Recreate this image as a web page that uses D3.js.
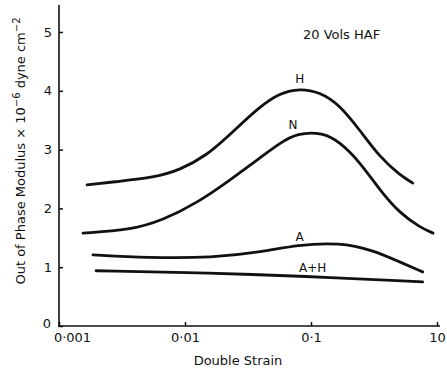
<!DOCTYPE html>
<html>
<head>
<meta charset="utf-8">
<script src="https://cdn.jsdelivr.net/npm/d3@7"></script>
<style>
  html, body { margin: 0; padding: 0; background: #fff; }
  svg { display: block; }
  text { font-family: "DejaVu Sans", sans-serif; fill: #111; }
</style>
</head>
<body>
<svg id="chart" width="447" height="371"></svg>
<script>
// Out-of-phase modulus vs double strain, 20 vols HAF
const strainH  = [0.00167, 0.00268, 0.00557, 0.00912, 0.015, 0.0216, 0.0394, 0.0566, 0.0813, 0.117, 0.169, 0.244, 0.352, 0.506, 0.643];
const modH     = [2.40, 2.45, 2.52, 2.65, 2.91, 3.21, 3.74, 3.96, 4.04, 3.98, 3.76, 3.33, 2.87, 2.57, 2.43];

const strainN  = [0.00155, 0.00366, 0.00668, 0.0124, 0.0227, 0.0394, 0.0566, 0.0776, 0.124, 0.169, 0.244, 0.352, 0.506, 0.73, 0.93];
const modN     = [1.58, 1.63, 1.80, 2.09, 2.48, 2.86, 3.11, 3.28, 3.29, 3.13, 2.79, 2.31, 1.92, 1.68, 1.58];

const strainA  = [0.00186, 0.005, 0.0167, 0.0414, 0.0776, 0.169, 0.31, 0.506, 0.77];
const modA     = [1.21, 1.16, 1.16, 1.26, 1.38, 1.42, 1.29, 1.09, 0.92];

const strainAH = [0.00197, 0.0167, 0.0813, 0.77];
const modAH    = [0.94, 0.90, 0.85, 0.75];

const xTicks = [0.001, 0.01, 0.1, 1];
const xTickLabels = ["0·001", "0·01", "0·1", "10"];
const yTicks = [0, 1, 2, 3, 4, 5];

const curveLabels = [
  { text: "H",   x: 0.0813, y: 4.03, dy: -6 },
  { text: "N",   x: 0.072,  y: 3.26, dy: -5 },
  { text: "A",   x: 0.0813, y: 1.38, dy: -4 },
  { text: "A+H", x: 0.103,  y: 0.85, dy: -4 }
];

const svg = d3.select("#chart");
const x = d3.scaleLog().domain([0.001, 1]).range([59, 437]);
const y = d3.scaleLinear().domain([0, 5]).range([326, 32]);

// axes
const xAxis = svg.append("g").attr("transform", "translate(0,326)")
  .call(d3.axisBottom(x).tickValues(xTicks).tickSize(-4).tickPadding(7)
        .tickFormat((d, i) => xTickLabels[i]));
const yAxis = svg.append("g").attr("transform", "translate(59,0)")
  .call(d3.axisLeft(y).tickValues(yTicks).tickSize(-4).tickPadding(7)
        .tickFormat(d3.format("d")));

[xAxis, yAxis].forEach(g => {
  g.select(".domain").remove();
  g.selectAll(".tick line").attr("stroke", "#111").attr("stroke-width", 1.5);
  g.selectAll("text").attr("font-size", 13).attr("font-family", "DejaVu Sans, sans-serif").attr("fill", "#111");
});
xAxis.selectAll(".tick").filter(d => d === 0.001).select("text").attr("dx", 13);
yAxis.selectAll(".tick").filter(d => d === 0).select("text").attr("dx", -1).attr("dy", "0.1em");

// axis lines
svg.append("line").attr("x1", 59).attr("x2", 59).attr("y1", 5).attr("y2", 327)
  .attr("stroke", "#111").attr("stroke-width", 1.6);
svg.append("line").attr("x1", 58).attr("x2", 440).attr("y1", 326).attr("y2", 326)
  .attr("stroke", "#111").attr("stroke-width", 1.6);

// smooth hand-drawn style curves
const line = d3.line().x(d => x(d[0])).y(d => y(d[1])).curve(d3.curveBasis);
[[strainH, modH], [strainN, modN], [strainA, modA], [strainAH, modAH]].forEach(([xs, ys]) => {
  svg.append("path")
    .attr("d", line(xs.map((v, i) => [v, ys[i]])))
    .attr("fill", "none").attr("stroke", "#111")
    .attr("stroke-width", 2.8).attr("stroke-linecap", "round").attr("stroke-linejoin", "round");
});

// curve labels
curveLabels.forEach(l => {
  svg.append("text").attr("x", x(l.x)).attr("y", y(l.y) + l.dy)
    .attr("text-anchor", "middle").attr("font-size", 12).text(l.text);
});

// title
svg.append("text").attr("x", 303).attr("y", 39).attr("font-size", 13).text("20 Vols HAF");

// axis titles
svg.append("text").attr("x", 238).attr("y", 365).attr("text-anchor", "middle")
  .attr("font-size", 13).text("Double  Strain");

const yt = svg.append("text").attr("transform", "translate(25,151) rotate(-90)")
  .attr("text-anchor", "middle").attr("font-size", 13);
yt.append("tspan").text("Out of Phase Modulus × 10");
yt.append("tspan").attr("dy", -5).attr("font-size", 10).text("−6");
yt.append("tspan").attr("dy", 5).text(" dyne cm");
yt.append("tspan").attr("dy", -5).attr("font-size", 10).text("−2");
</script>
</body>
</html>
